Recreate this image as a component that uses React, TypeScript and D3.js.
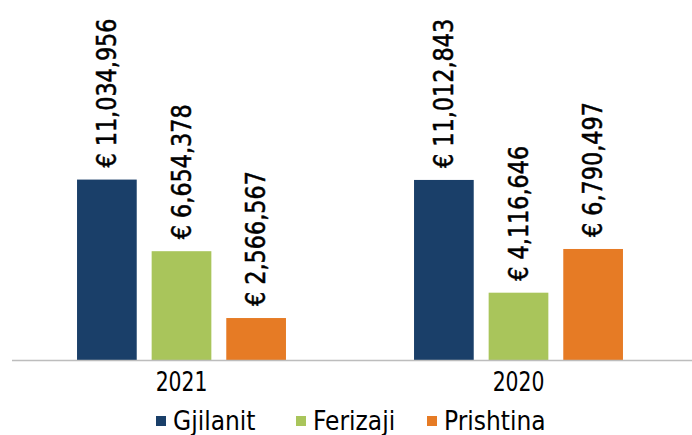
import React, { useEffect, useRef } from 'react';
import * as d3 from 'd3';

const years = ['2021', '2020'];
const cities = ['Gjilanit', 'Ferizaji', 'Prishtina'];
const values2021 = [11034956, 6654378, 2566567];
const values2020 = [11012843, 4116646, 6790497];
const colors = ['#1a3f69', '#a9c55b', '#e67b25'];

const W = 692;
const H = 435;
const FONT = '"Liberation Sans Narrow", "DejaVu Sans Condensed", Roboto, sans-serif';

const App = () => {
  const ref = useRef<SVGSVGElement>(null);

  useEffect(() => {
    const svg = d3.select(ref.current);
    svg.selectAll('*').remove();

    const seriesByYear: Record<string, number[]> = { '2021': values2021, '2020': values2020 };
    const rows = years.map(y => ({ year: y, values: seriesByYear[y] }));

    // outer band = year groups, inner band = cities
    const x0 = d3.scaleBand().domain(years).range([13, 687]).paddingInner(0.38).paddingOuter(0.19);
    const x1 = d3.scaleBand().domain(cities).range([0, x0.bandwidth()]).paddingInner(0.2);
    const y = d3.scaleLinear().domain([0, 20000000]).range([360, 33]);
    const colour = d3.scaleOrdinal<string, string>().domain(cities).range(colors);
    const fmt = d3.format(',');

    const groups = svg.selectAll('g.year')
      .data(rows)
      .enter()
      .append('g')
      .attr('class', 'year')
      .attr('transform', d => `translate(${x0(d.year)},0)`);

    const items = groups.selectAll('g.bar')
      .data(d => d.values.map((v, i) => ({ city: cities[i], value: v })))
      .enter()
      .append('g')
      .attr('class', 'bar');

    items.append('rect')
      .attr('x', d => x1(d.city)!)
      .attr('y', d => y(d.value))
      .attr('width', x1.bandwidth())
      .attr('height', d => y(0) - y(d.value))
      .attr('fill', d => colour(d.city));

    // rotated value labels above each bar
    items.append('text')
      .attr('transform', d => `translate(${x1(d.city)! + x1.bandwidth() / 2 + 9},${y(d.value) - 12}) rotate(-90) scale(0.955,1)`)
      .attr('font-family', FONT)
      .attr('font-size', 26)
      .attr('fill', '#000')
      .attr('stroke', '#000')
      .attr('stroke-width', 0.5)
      .text(d => `€ ${fmt(d.value)}`);

    // baseline
    svg.append('line')
      .attr('x1', 12).attr('x2', 692)
      .attr('y1', y(0) + 0.5).attr('y2', y(0) + 0.5)
      .attr('stroke', '#bdbdbd')
      .attr('stroke-width', 1.5);

    // year labels
    svg.selectAll('text.year')
      .data(years)
      .enter()
      .append('text')
      .attr('class', 'year')
      .attr('transform', d => `translate(${x0(d)! + x0.bandwidth() / 2},391) scale(0.87,1)`)
      .attr('text-anchor', 'middle')
      .attr('font-family', FONT)
      .attr('font-size', 26)
      .text(d => d);

    // legend
    const legendX = [156, 296, 427];
    const legend = svg.selectAll('g.legend')
      .data(cities)
      .enter()
      .append('g')
      .attr('class', 'legend')
      .attr('transform', (_, i) => `translate(${legendX[i]},416)`);

    legend.append('rect')
      .attr('width', 10)
      .attr('height', 10)
      .attr('fill', d => colour(d));

    legend.append('text')
      .attr('x', 17)
      .attr('y', 14)
      .attr('font-family', FONT)
      .attr('font-size', 26)
      .text(d => d);
  });

  return (
    <svg
      ref={ref}
      width={W}
      height={H}
      style={{ position: 'absolute', left: 0, top: 0, background: '#fff' }}
    />
  );
};

export default App;
